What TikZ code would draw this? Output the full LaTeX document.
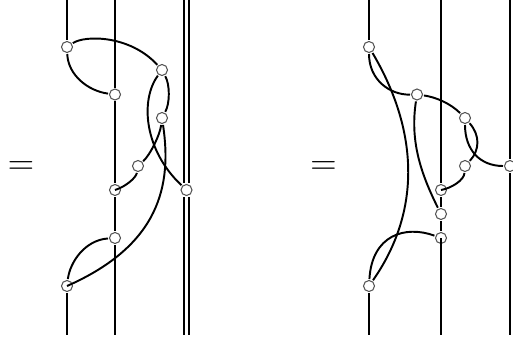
\documentclass[tikz,border=0pt]{standalone}
\usepackage{xcolor}
\usepackage{tikz}
\definecolor{ringgray}{HTML}{555555}

\begin{document}
\begin{tikzpicture}[
  x=0.02cm, y=-0.02cm,
  vert/.style={circle, draw=ringgray, fill=white, line width=0.6pt, inner sep=0pt,
    minimum size=0.22cm, outer sep=0.03cm},
  strand/.style={black, line width=1.1pt},
  twin/.style={black, line width=0.95pt, double=white, double distance=0.06cm},
  eqsign/.style={inner sep=0pt, font=\fontsize{21}{21}\selectfont},
]
  \clip (0,0) rectangle (513,341);

  % left side
  \node[eqsign] (eqleft) at (21,168) {$=$};
  \node[vert] (la) at (67,47) {};
  \node[vert] (lb) at (115,94.5) {};
  \node[vert] (lc) at (162,70) {};
  \node[vert] (ld) at (162,118) {};
  \node[vert] (le) at (138,166) {};
  \node[vert] (lf) at (115,190) {};
  \node[vert] (lg) at (186.5,190) {};
  \node[vert] (lh) at (115,238) {};
  \node[vert] (li) at (67,286) {};
  \coordinate (lt1) at (67,0);
  \coordinate (lt2) at (115,0);
  \coordinate (lt3) at (186.5,0);
  \coordinate (lb1) at (67,335);
  \coordinate (lb2) at (115,335);
  \coordinate (lb3) at (186.5,335);

  \draw[strand] (lt1) -- (la);
  \draw[strand] (li) -- (lb1);
  \draw[strand] (lt2) -- (lb);
  \draw[strand] (lb) -- (lf);
  \draw[strand] (lf) -- (lh);
  \draw[strand] (lh) -- (lb2);
  \draw[twin] (lt3) -- (lg);
  \draw[twin] (lg) -- (lb3);

  \draw[strand] (la) .. controls (85,35) and (130,35) .. (lc);
  \draw[strand] (la) .. controls (68,75) and (88,91) .. (lb);
  \draw[strand] (lc) .. controls (170,85) and (170,103) .. (ld);
  \draw[strand] (lc) .. controls (140,100) and (144,150) .. (lg);
  \draw[strand] (ld) .. controls (160,135) and (150,155) .. (le);
  \draw[strand] (ld) .. controls (172,185) and (160,245) .. (li.center);
  \draw[strand] (le) .. controls (136,178) and (125,187) .. (lf.center);
  \draw[strand] (lh) .. controls (85,240) and (70,262) .. (li);

  % right side
  \node[eqsign] (eqright) at (323.5,168) {$=$};
  \node[vert] (ra) at (369,47) {};
  \node[vert] (rb) at (417,94.5) {};
  \node[vert] (rc) at (465,118) {};
  \node[vert] (rd) at (465,166) {};
  \node[vert] (re) at (510,166) {};
  \node[vert] (rf) at (441,190) {};
  \node[vert] (rg) at (441,214) {};
  \node[vert] (rh) at (441,238) {};
  \node[vert] (ri) at (369,286) {};
  \coordinate (rt1) at (369,0);
  \coordinate (rt2) at (441,0);
  \coordinate (rt3) at (510,0);
  \coordinate (rb1) at (369,335);
  \coordinate (rb2) at (441,335);
  \coordinate (rb3) at (510,335);

  \draw[strand] (rt1) -- (ra);
  \draw[strand] (ri) -- (rb1);
  \draw[strand] (rt2) -- (rf);
  \draw[strand] (rf) -- (rg);
  \draw[strand] (rg) -- (rh);
  \draw[strand] (rh.center) -- (rb2);
  \draw[strand] (rt3) -- (re);
  \draw[strand] (re) -- (rb3);

  \draw[strand] (ra) .. controls (369,80) and (390,95) .. (rb);
  \draw[strand] (ra) .. controls (418,130) and (422,210) .. (ri);
  \draw[strand] (rb) .. controls (435,97) and (450,103) .. (rc);
  \draw[strand] (rb) .. controls (410,140) and (420,172) .. (rg);
  \draw[strand] (rc) .. controls (480,135) and (480,150) .. (rd);
  \draw[strand] (rc) .. controls (465,150) and (480,166) .. (re);
  \draw[strand] (rd) .. controls (464,180) and (452,188) .. (rf.center);
  \draw[strand] (rh) .. controls (405,225) and (372,235) .. (ri);
\end{tikzpicture}
\end{document}
